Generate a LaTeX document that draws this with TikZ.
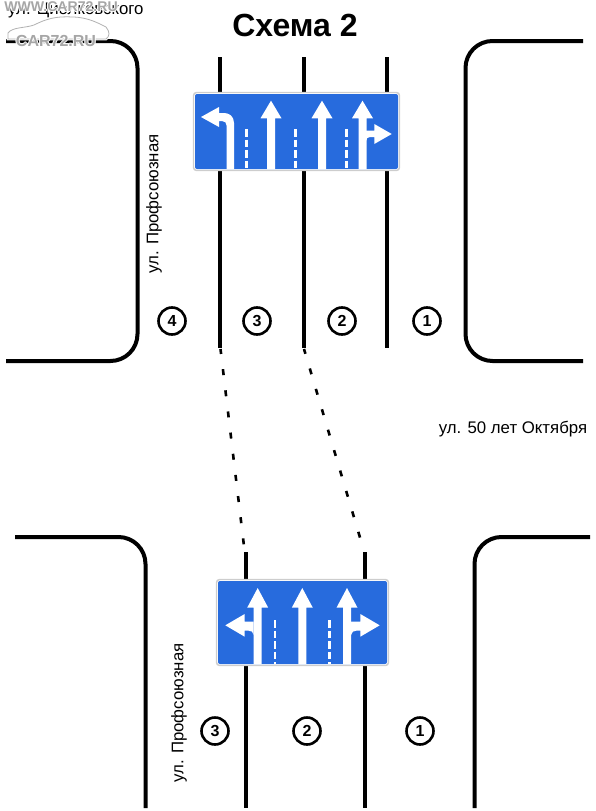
\documentclass[tikz,border=0pt]{standalone}
\usepackage{fontspec}
\setmainfont{Liberation Sans}
\definecolor{signblue}{RGB}{39,107,221}
\definecolor{signedge}{RGB}{205,205,205}
\tikzset{
  road/.style={line width=4pt},
  lane/.style={line width=3.6pt},
  dotlane/.style={line width=2.6pt,dash pattern=on 6pt off 15.3pt},
  num/.style={circle,draw,line width=2.6pt,minimum size=27pt,inner sep=0pt,font=\bfseries\fontsize{16}{16}\selectfont},
  street/.style={font=\fontsize{16.8}{17}\selectfont},
  signedgebox/.style={draw=signedge,line width=1.4pt,fill=white,rounded corners=3pt},
  signface/.style={fill=signblue,rounded corners=2pt},
  markline/.style={white,line width=2.6pt,dash pattern=on 7.5pt off 3pt},
  markfont/.style={font=\bfseries\fontsize{16}{16}\selectfont,inner sep=0pt},
}
% straight arrow on a sign: x, tip y, base of head y, bottom y
\newcommand{\signarrow}[4]{%
  \fill[white] (#1-4,#4) -- (#1-4,#3) -- (#1-10.5,#3) -- (#1,#2) -- (#1+10.5,#3) -- (#1+4,#3) -- (#1+4,#4) -- cycle;}
\begin{document}
\begin{tikzpicture}[x=1pt,y=-1pt]
  \useasboundingbox (0,0) rectangle (596,811);
  % upper crossing
  \draw[road,rounded corners=27pt] (6,41) -- (137.5,41) -- (137.5,361) -- (6,361);
  \draw[road,rounded corners=27pt] (583,41) -- (465.5,41) -- (465.5,361) -- (583,361);
  \foreach \x/\yend in {220/348,304/348,387/348}
    \draw[lane] (\x,57) -- (\x,\yend);
  % lower crossing
  \draw[road,rounded corners=27pt] (15,537) -- (145.5,537) -- (145.5,808);
  \draw[road,rounded corners=27pt] (590,537) -- (474.5,537) -- (474.5,808);
  \foreach \x in {246,365}
    \draw[lane] (\x,552) -- (\x,808);
  % lanes between
  \draw[dotlane,dash phase=1pt] (220.5,349) -- (244.7,552);
  \draw[dotlane,dash phase=1pt] (304,349) -- (364,551);
  % upper sign
  \draw[signedgebox] (193.5,92.5) rectangle (399.5,170.5);
  \fill[signface] (195,94) rectangle (398,169);
  \foreach \x in {246.3,295.7,346.7}
    \draw[markline] (\x,129) -- (\x,169);
  \fill[white] (226.7,169) -- (226.7,126) .. controls (226.7,123) and (225,121) .. (222,121) -- (219,121) -- (219,127)
    -- (201,117) -- (219,107) -- (219,113) -- (224,113) .. controls (229,113) and (234,116) .. (234,123) -- (234,169) -- cycle;
  \signarrow{271}{100.7}{118.3}{169}
  \signarrow{322}{100.7}{118.3}{169}
  \signarrow{362.5}{100.7}{118.3}{169}
  \fill[white] (366,141) .. controls (366,138.5) and (368,137) .. (370,137) -- (374.3,137) -- (374.3,144) -- (391.7,134)
    -- (374.3,124) -- (374.3,130.5) -- (366,130.5) -- cycle;
  % lower sign
  \draw[signedgebox] (216.5,579.5) rectangle (388.5,665.5);
  \fill[signface] (218,581) rectangle (387,664);
  \foreach \x in {275,329.3}
    \draw[markline] (\x,620) -- (\x,664);
  \signarrow{257.7}{588}{607.7}{664}
  \signarrow{302.3}{588}{607.7}{664}
  \signarrow{347}{588}{607.7}{664}
  \fill[white] (253.7,635) .. controls (253.7,632) and (251,630.5) .. (248,630.5) -- (244.7,630.5) -- (244.7,636.7)
    -- (225.3,625.3) -- (244.7,614) -- (244.7,621.5) -- (253.7,621.5) -- cycle;
  \fill[white] (351,635) .. controls (351,632) and (354,630.5) .. (357,630.5) -- (360.3,630.5) -- (360.3,636.7)
    -- (379.7,625.3) -- (360.3,614) -- (360.3,621.5) -- (351,621.5) -- cycle;
  % lane numbers
  \foreach \x/\n in {172/4,257/3,342/2,427/1}
    \node[num] (up\n) at (\x,321) {\n};
  \foreach \x/\n in {215/3,307/2,420/1}
    \node[num] (low\n) at (\x,731) {\n};
  % texts
  \node[font=\bfseries\fontsize{32}{32}\selectfont] (title) at (295,25) {Схема 2};
  \node[street] (october) at (513,429.5) {ул. 50 лет Октября};
  \node[street,rotate=90] (prof1) at (154,204) {ул. Профсоюзная};
  \node[street,rotate=90] (prof2) at (179,713) {ул. Профсоюзная};
  \node[street,anchor=west,inner sep=0pt] (ciol) at (8,10) {ул. Циолковского};
  % watermark
  \draw[white,line width=2.6pt] (8,33) .. controls (12,27) and (26,28) .. (34,25) .. controls (46,19) and (56,16) .. (72,17)
    .. controls (88,17) and (100,24) .. (106,27) .. controls (110,32) and (110,36) .. (106,39) -- (8,39) -- cycle;
  \draw[gray!60,line width=.8pt] (8,33) .. controls (12,27) and (26,28) .. (34,25) .. controls (46,19) and (56,16) .. (72,17)
    .. controls (88,17) and (100,24) .. (106,27) .. controls (110,32) and (110,36) .. (106,39) -- (8,39) -- cycle;
  \foreach \dx/\dy in {-1/0,1/0,0/-1,0/1}{
    \node[white,markfont] at (56+\dx,41+\dy) {CAR72.RU};
    \node[white,markfont,scale=.88] at (61+\dx,7+\dy) {WWW.CAR72.RU};
  }
  \node[gray!70,markfont] (mark1) at (56,41) {CAR72.RU};
  \node[gray!70,markfont,scale=.88] (mark2) at (61,7) {WWW.CAR72.RU};
\end{tikzpicture}
\end{document}
